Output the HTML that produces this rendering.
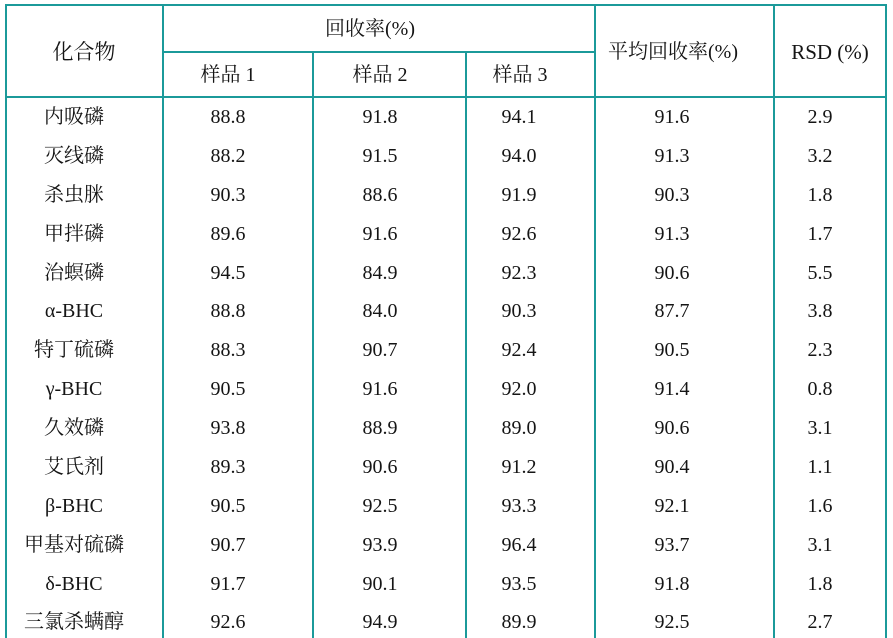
<!DOCTYPE html>
<html>
<head>
<meta charset="utf-8">
<style>
html,body{margin:0;padding:0;background:#fff;}
#w{position:relative;width:893px;height:638px;overflow:hidden;background:#fff;
font-family:"Liberation Serif","Noto Serif CJK SC",serif;font-size:20px;color:#151515;}
.h,.v{position:absolute;background:#1b9a9a;}
.h{height:2px;}
.v{width:2px;}
.r{position:absolute;left:0;width:893px;height:38px;line-height:38px;}
.r span,.t{position:absolute;width:160px;text-align:center;white-space:nowrap;}
.t{height:30px;line-height:30px;}
.c1{left:-6px}.c2{left:148px}.c3{left:300px}.c4{left:439px}.c5{left:592px}.c6{left:740px}
</style>
</head>
<body>
<div id="w">
<!-- lines -->
<div class="h" style="left:5px;top:4px;width:882px"></div>
<div class="h" style="left:162px;top:51px;width:433px"></div>
<div class="h" style="left:5px;top:96px;width:882px"></div>
<div class="v" style="left:5px;top:4px;height:634px"></div>
<div class="v" style="left:162px;top:4px;height:634px"></div>
<div class="v" style="left:312px;top:51px;height:587px"></div>
<div class="v" style="left:465px;top:51px;height:587px"></div>
<div class="v" style="left:594px;top:4px;height:634px"></div>
<div class="v" style="left:773px;top:4px;height:634px"></div>
<div class="v" style="left:885px;top:4px;height:634px"></div>

<!-- headers -->
<div class="t" style="left:4px;top:37px;font-size:21px">化合物</div>
<div class="t" style="left:290px;top:14px">回收率(%)</div>
<div class="t" style="left:148px;top:60px">样品 1</div>
<div class="t" style="left:300px;top:60px">样品 2</div>
<div class="t" style="left:440px;top:60px">样品 3</div>
<div class="t" style="left:593px;top:37px">平均回收率(%)</div>
<div class="t" style="left:750px;top:37px;font-size:21px">RSD (%)</div>

<!-- rows -->
<div class="r" style="top:98px"><span class="c1">内吸磷</span><span class="c2">88.8</span><span class="c3">91.8</span><span class="c4">94.1</span><span class="c5">91.6</span><span class="c6">2.9</span></div>
<div class="r" style="top:137px"><span class="c1">灭线磷</span><span class="c2">88.2</span><span class="c3">91.5</span><span class="c4">94.0</span><span class="c5">91.3</span><span class="c6">3.2</span></div>
<div class="r" style="top:176px"><span class="c1">杀虫脒</span><span class="c2">90.3</span><span class="c3">88.6</span><span class="c4">91.9</span><span class="c5">90.3</span><span class="c6">1.8</span></div>
<div class="r" style="top:215px"><span class="c1">甲拌磷</span><span class="c2">89.6</span><span class="c3">91.6</span><span class="c4">92.6</span><span class="c5">91.3</span><span class="c6">1.7</span></div>
<div class="r" style="top:254px"><span class="c1">治螟磷</span><span class="c2">94.5</span><span class="c3">84.9</span><span class="c4">92.3</span><span class="c5">90.6</span><span class="c6">5.5</span></div>
<div class="r" style="top:292px"><span class="c1">α-BHC</span><span class="c2">88.8</span><span class="c3">84.0</span><span class="c4">90.3</span><span class="c5">87.7</span><span class="c6">3.8</span></div>
<div class="r" style="top:331px"><span class="c1">特丁硫磷</span><span class="c2">88.3</span><span class="c3">90.7</span><span class="c4">92.4</span><span class="c5">90.5</span><span class="c6">2.3</span></div>
<div class="r" style="top:370px"><span class="c1">γ-BHC</span><span class="c2">90.5</span><span class="c3">91.6</span><span class="c4">92.0</span><span class="c5">91.4</span><span class="c6">0.8</span></div>
<div class="r" style="top:409px"><span class="c1">久效磷</span><span class="c2">93.8</span><span class="c3">88.9</span><span class="c4">89.0</span><span class="c5">90.6</span><span class="c6">3.1</span></div>
<div class="r" style="top:448px"><span class="c1">艾氏剂</span><span class="c2">89.3</span><span class="c3">90.6</span><span class="c4">91.2</span><span class="c5">90.4</span><span class="c6">1.1</span></div>
<div class="r" style="top:487px"><span class="c1">β-BHC</span><span class="c2">90.5</span><span class="c3">92.5</span><span class="c4">93.3</span><span class="c5">92.1</span><span class="c6">1.6</span></div>
<div class="r" style="top:526px"><span class="c1">甲基对硫磷</span><span class="c2">90.7</span><span class="c3">93.9</span><span class="c4">96.4</span><span class="c5">93.7</span><span class="c6">3.1</span></div>
<div class="r" style="top:565px"><span class="c1">δ-BHC</span><span class="c2">91.7</span><span class="c3">90.1</span><span class="c4">93.5</span><span class="c5">91.8</span><span class="c6">1.8</span></div>
<div class="r" style="top:603px"><span class="c1">三氯杀螨醇</span><span class="c2">92.6</span><span class="c3">94.9</span><span class="c4">89.9</span><span class="c5">92.5</span><span class="c6">2.7</span></div>
</div>
</body>
</html>
